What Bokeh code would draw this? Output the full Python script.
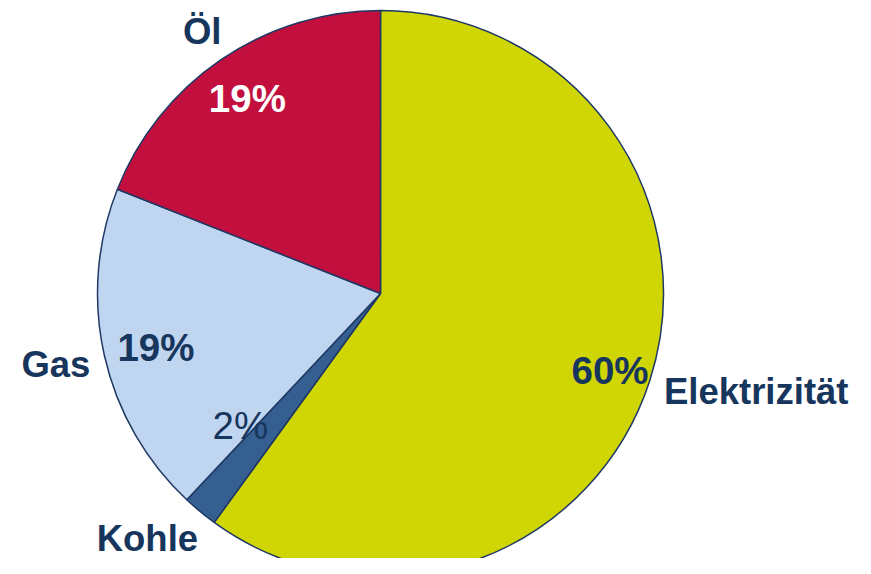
import numpy as np
from bokeh.plotting import figure
from bokeh.models import Range1d
from bokeh.core.properties import value
from bokeh.embed import file_html
from bokeh.resources import INLINE

# ---- data ----
categories = ["Elektrizität", "Kohle", "Gas", "Öl"]
shares = [60, 2, 19, 19]
pct_labels = ["60%", "2%", "19%", "19%"]

# ---- styles / layout ----
colors = ["#D0D504", "#365F91", "#C0D5EF", "#C20F3D"]
pct_colors = ["#17365D", "#17365D", "#17365D", "#FFFFFF"]
pct_styles = ["bold", "normal", "bold", "bold"]
# polar placement of the labels: radius (px) and angle nudge (deg) from the slice's mid-angle
pct_r = [246, 201, 234, 226]
pct_nudge = [-3.1, -4.6, 3.7, 1.9]
cat_r = [304, 347, 335, 307]
cat_nudge = [-3.2, -2.6, 1.7, 1.3]
cat_align = ["left", "center", "center", "center"]

NAVY = "#17365D"
W, H = 855, 558
CX, CY, R = 380, -293, 283
TEXT_SHIFT = -12

p = figure(width=W, height=H, output_backend="svg", toolbar_location=None,
           x_range=Range1d(0, W), y_range=Range1d(-H, 0),
           x_axis_type=None, y_axis_type=None, min_border=0,
           outline_line_color=None, background_fill_color="white")
p.grid.visible = False

frac = np.array(shares, dtype=float) / sum(shares)
ends = np.pi / 2 - 2 * np.pi * np.cumsum(frac)
starts = np.concatenate([[np.pi / 2], ends[:-1]])
mids = (starts + ends) / 2

for i in range(len(categories)):
    p.wedge(x=CX, y=CY, radius=R, start_angle=starts[i], end_angle=ends[i],
            direction="clock", fill_color=colors[i], line_color="#1F3864", line_width=1.5)

font = value("Liberation Sans")
for i in range(len(categories)):
    a = mids[i] + np.radians(pct_nudge[i])
    p.text(x=[CX + pct_r[i] * np.cos(a)], y=[CY + pct_r[i] * np.sin(a)], text=[pct_labels[i]],
           text_font=font, text_font_size="38.5px", text_font_style=pct_styles[i],
           text_color=pct_colors[i], text_align="center", text_baseline="alphabetic",
           y_offset=TEXT_SHIFT)
    b = mids[i] + np.radians(cat_nudge[i])
    p.text(x=[CX + cat_r[i] * np.cos(b)], y=[CY + cat_r[i] * np.sin(b)], text=[categories[i]],
           text_font=font, text_font_size="36.5px", text_font_style="bold",
           text_color=NAVY, text_align=cat_align[i], text_baseline="alphabetic",
           y_offset=TEXT_SHIFT)

open("out.html", "w").write(file_html(p, INLINE))
